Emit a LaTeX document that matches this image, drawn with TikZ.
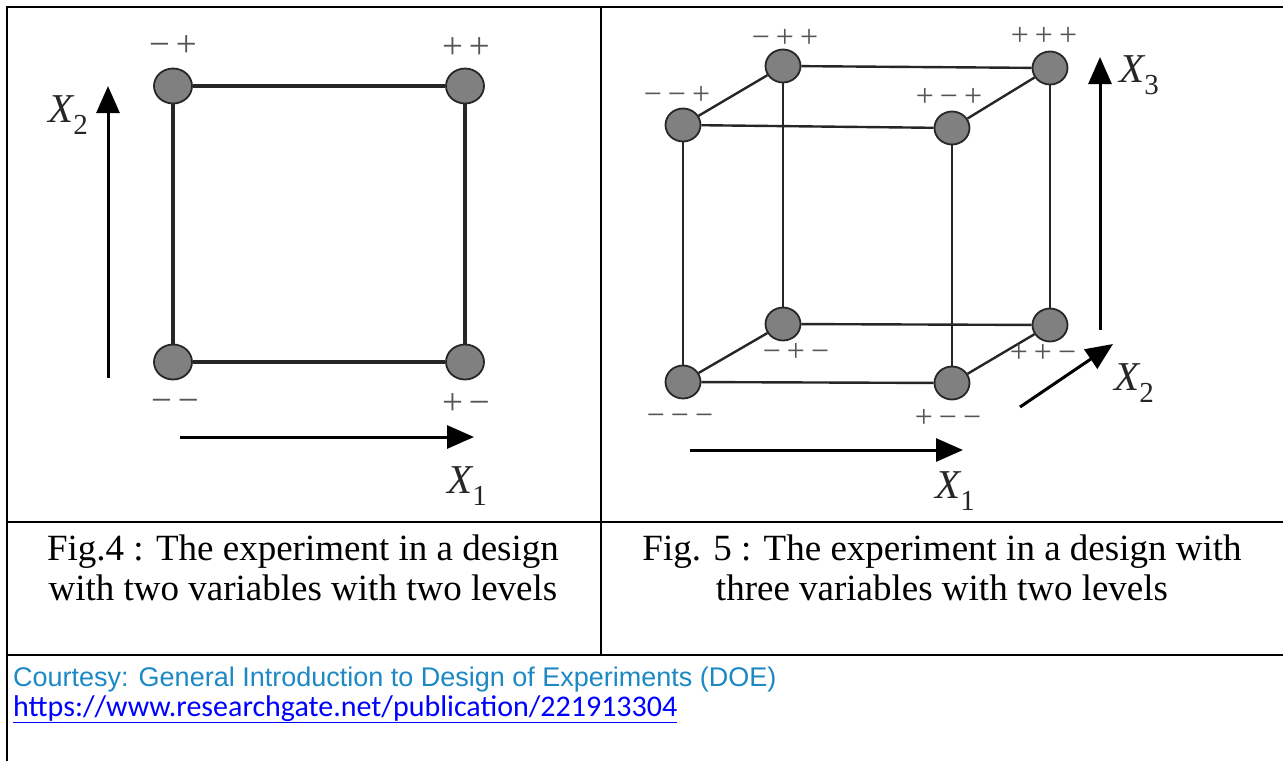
\documentclass[tikz,border=0pt]{standalone}
\usepackage{fontspec}
\setmainfont{Liberation Serif}
\newfontfamily\arialfont{Liberation Sans}
\newfontfamily\calibrifont{Carlito}
\usetikzlibrary{arrows.meta, shapes.geometric, positioning}
\definecolor{ptgray}{RGB}{128,128,128}
\definecolor{signgray}{RGB}{85,85,85}
\definecolor{courtesyblue}{RGB}{28,136,196}
\definecolor{linkblue}{RGB}{0,0,255}
\newcommand{\gap}{\hspace{6pt}}
\newcommand{\xsub}[1]{{\itshape X}\raisebox{-0.3em}{\fontsize{29}{29}\selectfont #1}}

\begin{document}
\begin{tikzpicture}[x=1pt, y=-1pt,
    pt/.style={ellipse, draw=black!85, line width=1.8pt, fill=ptgray, minimum width=38pt, minimum height=35pt, inner sep=0pt},
    cpt/.style={pt, minimum width=35pt, minimum height=33pt},
    sgn/.style={text=signgray, inner sep=0pt, font=\fontsize{37}{37}\selectfont},
    csgn/.style={sgn, font=\fontsize{32}{32}\selectfont},
    edge/.style={draw=black!85, line width=3.2pt},
    cedge/.style={draw=black!85, line width=2.4pt},
    axis/.style={line width=3pt, -{Triangle[length=27pt, width=23pt]}},
    xlab/.style={inner sep=0pt, text=black!85, font=\fontsize{41}{41}\selectfont},
    rule/.style={line width=2pt},
    capt/.style={align=center, inner sep=0pt, font=\fontsize{37}{40}\selectfont}]
    \useasboundingbox (0,0) rectangle (1283,761);

    \draw[rule] (7,761) -- (7,7) -- (1283,7);
    \draw[rule] (601,7) -- (601,655);
    \draw[rule] (7,522) -- (1283,522);
    \draw[rule] (7,655) -- (1283,655);

    \foreach \n/\x/\y in {mp/173/86, pp/465/86, mm/173/362, pm/465/362} {
        \node[pt] (\n) at (\x,\y) {};
    }
    \draw[edge] (mp) -- (pp) (pp) -- (pm) (pm) -- (mm) (mm) -- (mp);
    \node[sgn] (lmp) at (173,46) {−\gap+};
    \node[sgn] (lpp) at (466,48) {+\gap+};
    \node[sgn] (lmm) at (175,406) {−\gap−};
    \node[sgn] (lpm) at (466,404) {+\gap−};

    \coordinate (a2s) at (108,378);
    \coordinate (a2e) at (108,86);
    \coordinate (a1s) at (180,437);
    \coordinate (a1e) at (474,437);
    \draw[axis] (a2s) -- (a2e);
    \draw[axis] (a1s) -- (a1e);
    \node[xlab] (lx2) at (68,115) {\xsub{2}};
    \node[xlab] (lx1) at (467,486) {\xsub{1}};

    \foreach \n/\x/\y in {mmp/683/125, pmp/952/128, mpp/783/66, ppp/1050/68,
                          mmm/683/382, pmm/952/383, mpm/783/324, ppm/1050/325} {
        \node[cpt] (\n) at (\x,\y) {};
    }
    \foreach \a/\b in {mmp/pmp, pmp/ppp, ppp/mpp, mpp/mmp, mmm/pmm, pmm/ppm, ppm/mpm, mpm/mmm,
                       mmp/mmm, pmp/pmm, mpp/mpm, ppp/ppm} {
        \draw[cedge] (\a) -- (\b);
    }
    \node[csgn] (lmpp) at (785,38) {−\gap+\gap+};
    \node[csgn] (lppp) at (1044,36) {+\gap+\gap+};
    \node[csgn] (lmmp) at (677,95) {−\gap−\gap+};
    \node[csgn] (lpmp) at (949,97) {+\gap−\gap+};
    \node[csgn] (lmpm) at (796,352) {−\gap+\gap−};
    \node[csgn] (lppm) at (1043,353) {+\gap+\gap−};
    \node[csgn] (lmmm) at (680,420) {−\gap−\gap−};
    \node[csgn] (lpmm) at (948,418) {+\gap−\gap−};

    \coordinate (c3s) at (1100,330);
    \coordinate (c3e) at (1100,57);
    \coordinate (c2s) at (1020,407);
    \coordinate (c2e) at (1113,344);
    \coordinate (c1s) at (690,450);
    \coordinate (c1e) at (963,450);
    \draw[axis] (c3s) -- (c3e);
    \draw[axis] (c2s) -- (c2e);
    \draw[axis] (c1s) -- (c1e);
    \node[xlab] (cx3) at (1139,75) {\xsub{3}};
    \node[xlab] (cx2) at (1134,383) {\xsub{2}};
    \node[xlab] (cx1) at (955,491) {\xsub{1}};

    \node[capt] (cap4) at (303,568) {Fig.4 : The experiment in a design\\with two variables with two levels};
    \node[capt] (cap5) at (942,568) {Fig. 5 : The experiment in a design with\\three variables with two levels};

    \node[anchor=base west, inner sep=0pt, text=courtesyblue, font=\arialfont\fontsize{27}{27}\selectfont] (src) at (13,686) {Courtesy: General Introduction to Design of Experiments (DOE)};
    \node[anchor=base west, inner sep=0pt, text=linkblue, font=\calibrifont\fontsize{30}{30}\selectfont] (url) at (13,716) {\underline{https://www.researchgate.net/publication/221913304}};
\end{tikzpicture}
\end{document}
